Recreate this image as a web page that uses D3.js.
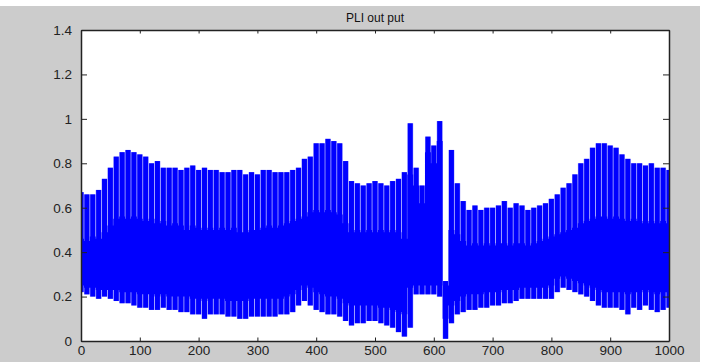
<!DOCTYPE html>
<html>
<head>
<meta charset="utf-8">
<script src="https://cdn.jsdelivr.net/npm/d3@7"></script>
<style>
  html, body { margin: 0; padding: 0; background: #ffffff; overflow: hidden; }
  text { font-family: "Liberation Sans", Arial, sans-serif; }
</style>
</head>
<body>
<div id="canvas"></div>
<script>
// canvas size
const width = 703;
const height = 362;

// sample positions (every 10 samples)
const samples = d3.range(0, 1001, 10);

// peak of the signal at each position
const upperPeak = [
  0.67,0.66,0.66,0.68,0.73,0.78,0.83,0.85,0.86,0.85,
  0.84,0.83,0.80,0.81,0.78,0.78,0.78,0.77,0.78,0.79,
  0.77,0.78,0.77,0.77,0.76,0.76,0.77,0.77,0.75,0.76,
  0.75,0.77,0.77,0.76,0.76,0.76,0.77,0.78,0.82,0.83,
  0.89,0.89,0.91,0.90,0.89,0.81,0.72,0.71,0.70,0.71,
  0.72,0.71,0.70,0.72,0.73,0.76,0.98,0.78,0.70,0.92,
  0.88,0.99,0.27,0.86,0.71,0.63,0.59,0.61,0.59,0.60,
  0.60,0.61,0.63,0.60,0.62,0.61,0.59,0.60,0.61,0.62,
  0.64,0.66,0.69,0.71,0.75,0.80,0.82,0.87,0.89,0.89,
  0.88,0.87,0.84,0.82,0.80,0.80,0.79,0.80,0.78,0.78,
  0.77
];

// trough of the signal at each position
const lowerPeak = [
  0.22,0.21,0.20,0.19,0.20,0.19,0.18,0.17,0.17,0.16,
  0.15,0.15,0.14,0.14,0.15,0.14,0.14,0.13,0.13,0.12,
  0.12,0.10,0.12,0.12,0.12,0.11,0.11,0.10,0.10,0.11,
  0.11,0.11,0.11,0.11,0.12,0.12,0.13,0.16,0.18,0.16,
  0.14,0.13,0.12,0.12,0.11,0.09,0.07,0.08,0.08,0.09,
  0.09,0.08,0.07,0.06,0.04,0.02,0.06,0.21,0.21,0.21,
  0.21,0.20,0.01,0.08,0.12,0.13,0.14,0.14,0.15,0.15,
  0.16,0.16,0.17,0.17,0.18,0.19,0.19,0.19,0.19,0.19,
  0.19,0.22,0.24,0.23,0.22,0.21,0.20,0.18,0.16,0.15,
  0.15,0.15,0.14,0.12,0.15,0.14,0.16,0.14,0.13,0.14,
  0.15
];

// top of the dense (solid) part of the signal
const bandTop = [
  0.46,0.45,0.47,0.46,0.49,0.52,0.55,0.56,0.55,0.56,
  0.55,0.54,0.55,0.53,0.54,0.52,0.53,0.52,0.50,0.52,
  0.51,0.50,0.51,0.50,0.51,0.50,0.51,0.49,0.49,0.50,
  0.50,0.51,0.52,0.51,0.52,0.53,0.54,0.55,0.56,0.58,
  0.59,0.58,0.59,0.58,0.57,0.53,0.49,0.50,0.49,0.50,
  0.49,0.50,0.49,0.50,0.49,0.46,0.75,0.70,0.62,0.85,
  0.80,0.90,0.25,0.50,0.48,0.45,0.43,0.44,0.43,0.44,
  0.43,0.44,0.44,0.43,0.44,0.44,0.43,0.44,0.45,0.46,
  0.47,0.48,0.49,0.50,0.51,0.53,0.54,0.55,0.56,0.56,
  0.55,0.56,0.55,0.54,0.55,0.54,0.53,0.54,0.53,0.54,
  0.53
];

// bottom of the dense (solid) part of the signal
const bandBottom = [
  0.25,0.24,0.24,0.23,0.23,0.23,0.23,0.22,0.22,0.22,
  0.21,0.21,0.21,0.20,0.21,0.20,0.20,0.20,0.20,0.19,
  0.19,0.18,0.19,0.19,0.19,0.18,0.18,0.18,0.18,0.19,
  0.19,0.19,0.19,0.19,0.19,0.20,0.21,0.23,0.25,0.24,
  0.22,0.21,0.20,0.20,0.19,0.17,0.16,0.16,0.16,0.16,
  0.16,0.15,0.15,0.14,0.13,0.12,0.24,0.25,0.25,0.25,
  0.25,0.25,0.10,0.16,0.18,0.20,0.21,0.21,0.21,0.22,
  0.22,0.22,0.23,0.23,0.23,0.24,0.24,0.24,0.24,0.24,
  0.25,0.28,0.29,0.28,0.27,0.26,0.25,0.24,0.23,0.22,
  0.22,0.22,0.22,0.21,0.22,0.22,0.23,0.22,0.21,0.22,
  0.22
];

// ticks
const xTicks = [0, 100, 200, 300, 400, 500, 600, 700, 800, 900, 1000];
const yTicks = [0, 0.2, 0.4, 0.6, 0.8, 1, 1.2, 1.4];
const title = 'PLI out put';

const data = samples.map((s, i) => ({
  x: s, hi: upperPeak[i], lo: lowerPeak[i], top: bandTop[i], bottom: bandBottom[i]
}));

const svg = d3.select('#canvas')
  .append('svg')
  .attr('width', width)
  .attr('height', height)
  .style('display', 'block');

// matlab grey figure background
svg.append('rect')
  .attr('x', 0).attr('y', 6)
  .attr('width', 700).attr('height', height - 6)
  .attr('fill', '#cccccc');

// plot box
const margin = { top: 30, right: 34, bottom: 21, left: 81 };
const innerWidth = width - margin.left - margin.right;
const innerHeight = height - margin.top - margin.bottom;

const xScale = d3.scaleLinear().domain([0, 1000]).range([0, innerWidth]);
const yScale = d3.scaleLinear().domain([0, 1.4]).range([innerHeight, 0]);

const g = svg.append('g')
  .attr('transform', `translate(${margin.left},${margin.top})`);

g.append('rect')
  .attr('width', innerWidth)
  .attr('height', innerHeight)
  .attr('fill', '#ffffff');

g.append('clipPath').attr('id', 'clip')
  .append('rect').attr('width', innerWidth).attr('height', innerHeight);

const plot = g.append('g').attr('clip-path', 'url(#clip)');

// spikes: light halo first (gives the pale stripes between bars), then the bar
const step = xScale(10) - xScale(0);
const gap = 0.9;

plot.selectAll('rect.halo')
  .data(data)
  .enter().append('rect')
    .attr('class', 'halo')
    .attr('x', d => xScale(d.x) - step / 2)
    .attr('width', step)
    .attr('y', d => yScale(d.hi))
    .attr('height', d => yScale(d.lo) - yScale(d.hi))
    .attr('fill', '#9a9aff');

plot.selectAll('rect.spike')
  .data(data)
  .enter().append('rect')
    .attr('class', 'spike')
    .attr('x', d => xScale(d.x) - step / 2 + gap / 2)
    .attr('width', step - gap)
    .attr('y', d => yScale(d.hi))
    .attr('height', d => yScale(d.lo) - yScale(d.hi))
    .attr('fill', '#0000ff');

// solid dense band
const band = d3.area()
  .x(d => xScale(d.x))
  .y0(d => yScale(d.bottom))
  .y1(d => yScale(d.top))
  .curve(d3.curveStep);

plot.append('path')
  .datum(data)
  .attr('d', band)
  .attr('fill', '#0000ff');

// axes (ticks inside, box on)
const axisColor = '#222222';

const xAxis = g.append('g')
  .attr('transform', `translate(0,${innerHeight})`)
  .call(d3.axisBottom(xScale).tickValues(xTicks).tickSizeInner(-3.5).tickSizeOuter(0).tickPadding(4)
    .tickFormat(d => String(d)));

const xAxisTop = g.append('g')
  .call(d3.axisTop(xScale).tickValues(xTicks).tickSizeInner(-3.5).tickSizeOuter(0));

const yAxis = g.append('g')
  .call(d3.axisLeft(yScale).tickValues(yTicks).tickSizeInner(-6).tickSizeOuter(0).tickPadding(9)
    .tickFormat(d => String(d)));

const yAxisRight = g.append('g')
  .attr('transform', `translate(${innerWidth},0)`)
  .call(d3.axisRight(yScale).tickValues(yTicks).tickSizeInner(-6).tickSizeOuter(0));

// the top and right axes only carry tick marks
xAxisTop.selectAll('.tick text').remove();
yAxisRight.selectAll('.tick text').remove();

[xAxis, xAxisTop, yAxis, yAxisRight].forEach(a => {
  a.select('.domain').attr('stroke', axisColor).attr('stroke-width', 1.5);
  a.selectAll('.tick line').attr('stroke', axisColor);
  a.selectAll('.tick text')
    .attr('fill', '#222222')
    .style('font-size', '13.5px')
    .style('font-family', '"Liberation Sans", Arial, sans-serif');
});

// title
svg.append('text')
  .attr('x', margin.left + innerWidth / 2)
  .attr('y', 22)
  .attr('text-anchor', 'middle')
  .attr('fill', '#111111')
  .style('font-size', '12px')
  .text(title);
</script>
</body>
</html>
